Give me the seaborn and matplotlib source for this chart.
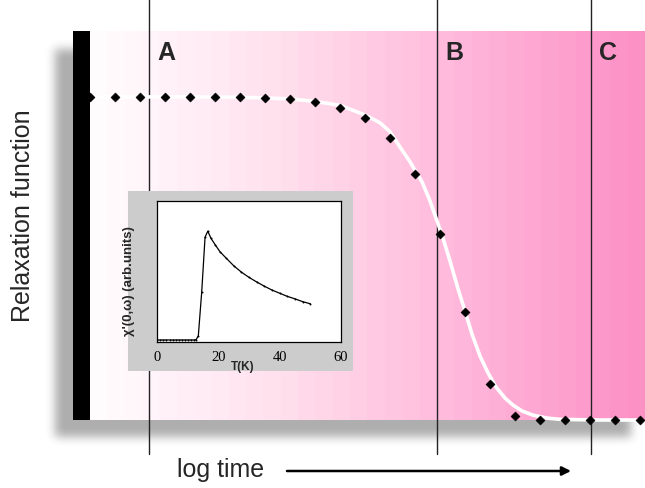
import numpy as np
import pandas as pd
import matplotlib
matplotlib.use("Agg")
import matplotlib.pyplot as plt
import seaborn as sns
from matplotlib.colors import LinearSegmentedColormap

# ---------------- data ----------------
log_time_pts = list(range(23))
relax_pts = [1.0, 1.0, 1.0, 1.0, 1.0, 1.0, 1.0, 0.997, 0.992, 0.984, 0.966, 0.935,
             0.873, 0.762, 0.576, 0.334, 0.112, 0.013, 0.0, 0.0, 0.0, 0.0, 0.0]

fit_x = [0, 4, 6, 8, 9, 10, 11, 11.6, 12, 12.4, 12.8, 13.28, 13.6, 13.84, 14.08, 14.4,
         14.72, 14.96, 15.28, 15.6, 15.92, 16.24, 16.6, 16.92, 17.28, 17.72, 18.28, 18.8, 20.4, 22]
fit_y = [1.0, 1.0, 0.999, 0.994, 0.986, 0.974, 0.944, 0.920, 0.892, 0.845, 0.799, 0.737,
         0.678, 0.625, 0.573, 0.492, 0.406, 0.347, 0.266, 0.198, 0.146, 0.102, 0.068, 0.046,
         0.028, 0.015, 0.006, 0.002, 0.0, 0.0]

region_lines = [2.36, 13.88, 20.04]
region_labels = ["A", "B", "C"]

inset_T = [0, 1, 2, 3, 4, 5, 6, 7, 8, 9, 10, 11, 12, 12.7, 13.4, 14.5, 15.6, 16.5, 17.5, 19,
           20.5, 22.5, 25, 27.5, 30, 32.5, 35, 37.5, 40, 42.5, 45, 47.5, 50]
inset_chi = [0.05, 0.05, 0.05, 0.05, 0.05, 0.05, 0.05, 0.05, 0.05, 0.05, 0.05, 0.05, 0.05,
             0.06, 0.17, 1.41, 2.98, 3.15, 2.95, 2.75, 2.56, 2.38, 2.16, 1.98, 1.83, 1.70,
             1.58, 1.47, 1.38, 1.29, 1.22, 1.14, 1.08]
inset_xticks = [0, 20, 40, 60]
inset_yticks = [0, 1, 2, 3, 4]

# ---------------- style ----------------
sns.set_theme(style="white")
plt.rcParams["font.family"] = ["Liberation Sans", "DejaVu Sans"]

W, H = 645, 489
fig = plt.figure(figsize=(W / 100, H / 100), dpi=100)

# background axes (shadow + arrow), pixel coordinates
bg = fig.add_axes([0, 0, 1, 1])
bg.set_xlim(0, W)
bg.set_ylim(H, 0)
bg.axis("off")
yy, xx = np.mgrid[0:H, 0:W]
mask = ((xx >= 55) & (xx <= 630) & (yy >= 50) & (yy <= 437)).astype(float)


def blur(a, r):
    k = np.ones(2 * r + 1) / (2 * r + 1)
    a = np.apply_along_axis(lambda v: np.convolve(v, k, mode="same"), 0, a)
    a = np.apply_along_axis(lambda v: np.convolve(v, k, mode="same"), 1, a)
    return a


for _ in range(2):
    mask = blur(mask, 5)
bg.imshow(1 - 0.32 * mask, cmap="gray", vmin=0, vmax=1, extent=(0, W, H, 0),
          aspect="auto", interpolation="bilinear", zorder=0)
bg.annotate("", xy=(571, 472), xytext=(287, 472),
            arrowprops=dict(arrowstyle="-|>", lw=1.8, color="black", mutation_scale=13,
                            shrinkA=0, shrinkB=0))

# main panel axes
ax = fig.add_axes([73 / W, (H - 421) / H, 572 / W, 389 / H])
x0, x1 = -0.68, 22.2
y0, y1 = 0.0, 1.204
ax.set_xlim(x0, x1)
ax.set_ylim(y0, y1)
ax.axis("off")

pink = LinearSegmentedColormap.from_list("pk", [(1.0, 0.99, 0.995), (1.0, 0.88, 0.93),
                                                (1.0, 0.72, 0.86), (0.99, 0.57, 0.78)])
grad = np.linspace(0, 1, 32)[None, :]
ax.imshow(grad, cmap=pink, extent=(0, x1, y0, y1), aspect="auto",
          interpolation="nearest", zorder=0)
ax.axvspan(x0, 0, color="black", zorder=1, lw=0)

for xv, lab in zip(region_lines, region_labels):
    ax.axvline(xv, ymin=-0.087, ymax=1.082, color="#222222", lw=1.0, clip_on=False, zorder=2)
    ax.text(xv + 0.33, 1.139, lab, fontsize=18, fontweight="bold", ha="left", va="center",
            zorder=3)

fit_df = pd.DataFrame({"t": fit_x, "r": fit_y})
sns.lineplot(data=fit_df, x="t", y="r", ax=ax, color="white", lw=2.6, zorder=3,
             sort=False, estimator=None)
pts_df = pd.DataFrame({"t": log_time_pts, "r": relax_pts})
sns.scatterplot(data=pts_df, x="t", y="r", ax=ax, marker="D", s=22, color="black",
                edgecolor="black", linewidth=0.3, zorder=5)
for art in ax.lines + ax.collections:
    art.set_clip_on(False)
ax.set_xlim(x0, x1)
ax.set_ylim(y0, y1)

fig.text(23 / W, 1 - 216 / H, "Relaxation function", rotation=90, fontsize=18,
         ha="center", va="center")
fig.text(221 / W, 1 - 470 / H, "log time", fontsize=18, ha="center", va="center")

# inset
gx = fig.add_axes([128 / W, 1 - 372 / H, 225 / W, 180 / H], zorder=5)
gx.set_facecolor("#cccccc")
gx.set_xticks([])
gx.set_yticks([])
for s in gx.spines.values():
    s.set_visible(False)

ix = fig.add_axes([157.3 / W, 1 - 342.7 / H, 183.7 / W, 140.4 / H], zorder=6)
ix.set_facecolor("white")
ins_df = pd.DataFrame({"T": inset_T, "chi": inset_chi})
sns.lineplot(data=ins_df, x="T", y="chi", ax=ix, color="black", lw=0.9, marker="o",
             markersize=1.4, markeredgewidth=0, estimator=None)
ix.set_xlim(0, 60)
ix.set_ylim(0, 4)
ix.set_xticks(inset_xticks)
ix.set_xticklabels([str(v) for v in inset_xticks])
ix.set_yticks(inset_yticks)
ix.set_yticklabels([])
ix.tick_params(direction="in", length=3, width=0.8, pad=6, colors="black")
for lbl in ix.get_xticklabels():
    lbl.set_fontfamily(["Liberation Serif", "DejaVu Serif"])
    lbl.set_fontsize(10.5)
for s in ix.spines.values():
    s.set_visible(True)
    s.set_color("black")
    s.set_linewidth(0.9)
ix.set_xlabel("")
ix.set_ylabel("χ'(0,ω) (arb.units)", fontsize=9.5, fontweight="bold")
ix.yaxis.set_label_coords(-0.121, 0.44)
ix.text(0.466, -0.17, "T(K)", transform=ix.transAxes, fontsize=8.5, fontweight="bold",
        ha="center", va="center")

fig.savefig("out.png", dpi=100)
